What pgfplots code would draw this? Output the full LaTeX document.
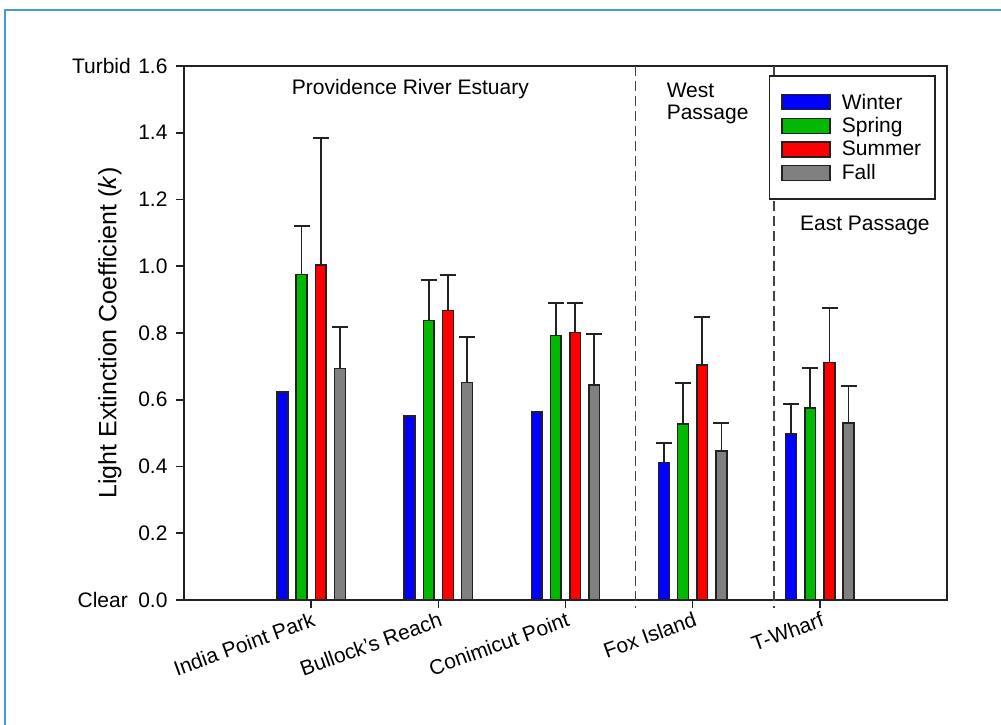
\documentclass[border=0pt]{standalone}
\usepackage{fontspec}
\setmainfont{Liberation Sans}
\usepackage{pgfplots}
\pgfplotsset{compat=1.18}
\definecolor{wblue}{RGB}{0,0,255}
\definecolor{sgreen}{RGB}{0,185,0}
\definecolor{sred}{RGB}{255,0,0}
\definecolor{fgray}{RGB}{128,128,128}
\definecolor{frameblue}{RGB}{70,155,205}
\definecolor{axisdark}{RGB}{34,34,34}
\begin{document}
\begin{tikzpicture}[font=\fontsize{21}{24}\selectfont]
\useasboundingbox (0pt,0pt) rectangle (1001pt,725pt);
\draw[frameblue, line width=2pt] (5pt,0pt) -- (5pt,715pt) -- (1001pt,715pt);
\begin{axis}[
  at={(184pt,125pt)}, anchor=south west,
  scale only axis, width=763pt, height=534pt,
  xmin=0, xmax=6, ymin=0, ymax=1.6,
  axis line style={axisdark, line width=1.6pt},
  every tick/.style={axisdark, line width=1.6pt},
  tick align=outside, major tick length=8pt,
  xtick={1,2,3,4,5},
  xticklabels={India Point Park, Bullock's Reach, Conimicut Point, Fox Island, T-Wharf},
  xtick pos=bottom, ytick pos=left,
  xticklabel style={rotate=20, anchor=north east, inner sep=3pt, xshift=2pt},
  ytick={0,0.2,...,1.6},
  yticklabel style={/pgf/number format/fixed, /pgf/number format/precision=1, /pgf/number format/fixed zerofill, xshift=-5pt},
  /pgf/number format/assume math mode=true,
  ylabel={Light Extinction Coefficient (\textit{k})},
  ylabel style={font=\fontsize{25}{30}\selectfont, at={(axis description cs:0,0.5)}, anchor=center, yshift=74pt},
  ybar, bar width=10.8pt, bar shift=0pt,
  clip=false,
  legend style={at={(rel axis cs:0.9856,0.983)}, anchor=north east, draw=axisdark, line width=1.6pt, inner xsep=12pt, inner ysep=16pt, row sep=3pt, font=\fontsize{21}{22}\selectfont, cells={anchor=west}, /tikz/every odd column/.append style={column sep=9pt}},
  legend image code/.code={\draw[#1, line width=1.5pt] (0pt,-7.5pt) rectangle (48pt,7.5pt);},
  error bars/y dir=plus, error bars/y explicit,
  error bars/error bar style={axisdark, line width=1.8pt},
  error bars/error mark options={rotate=90, mark size=8pt, line width=1.8pt, axisdark},
]
\addplot[fill=wblue, draw=axisdark, line width=1.5pt, error bars/draw error bar/.code 2 args={}] coordinates {(0.774,0.623) (1.774,0.552) (2.774,0.563)};
\addlegendentry{Winter}
\addplot[fill=wblue, draw=axisdark, line width=1.5pt, forget plot] coordinates {(3.774,0.412) +- (0,0.059) (4.774,0.498) +- (0,0.089)};
\addplot[fill=sgreen, draw=axisdark, line width=1.5pt] coordinates {(0.924,0.976) +- (0,0.145) (1.924,0.837) +- (0,0.121) (2.924,0.792) +- (0,0.097) (3.924,0.528) +- (0,0.123) (4.924,0.576) +- (0,0.118)};
\addlegendentry{Spring}
\addplot[fill=sred, draw=axisdark, line width=1.5pt] coordinates {(1.076,1.003) +- (0,0.381) (2.076,0.868) +- (0,0.106) (3.076,0.802) +- (0,0.089) (4.076,0.704) +- (0,0.145) (5.076,0.712) +- (0,0.163)};
\addlegendentry{Summer}
\addplot[fill=fgray, draw=axisdark, line width=1.5pt] coordinates {(1.226,0.693) +- (0,0.124) (2.226,0.651) +- (0,0.138) (3.226,0.644) +- (0,0.153) (4.226,0.447) +- (0,0.083) (5.226,0.531) +- (0,0.109)};
\addlegendentry{Fall}
\draw[axisdark!85, line width=1.3pt, dash pattern=on 10pt off 5pt] (axis cs:3.55,1.6) -- (axis cs:3.55,-0.025);
\draw[axisdark!85, line width=1.3pt, dash pattern=on 10pt off 5pt] (axis cs:4.64,1.6) -- (axis cs:4.64,-0.025);
\node[anchor=center] at (axis cs:1.78,1.53) {Providence River Estuary};
\node[anchor=west, align=left, inner sep=0pt, font=\fontsize{21}{22.5}\selectfont] at (axis cs:3.795,1.488) {West\\Passage};
\node[anchor=west, inner sep=0pt] at (axis cs:4.843,1.122) {East Passage};
\node[anchor=east, inner sep=0pt] at ([xshift=-53pt]axis cs:0,1.6) {Turbid};
\node[anchor=east, inner sep=0pt] at ([xshift=-56pt]axis cs:0,0) {Clear};
\end{axis}
\end{tikzpicture}
\end{document}
